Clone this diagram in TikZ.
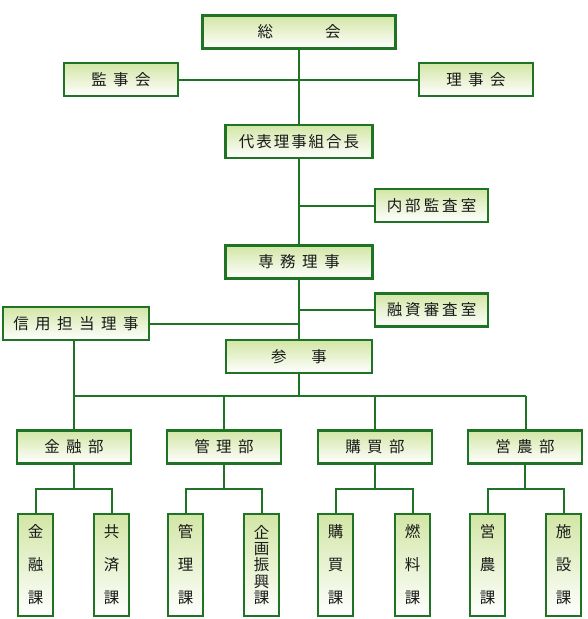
\documentclass[tikz,border=0pt]{standalone}
\usepackage{fontspec}
\setmainfont{Noto Sans CJK JP}
\usetikzlibrary{backgrounds}
\definecolor{bordergreen}{RGB}{30,115,36}
\definecolor{toplight}{RGB}{210,230,165}
\newcommand{\jg}[1]{\hspace{#1pt}}
\tikzset{
  box/.style={draw=bordergreen, line width=2.2pt, rectangle, inner sep=0pt,
    top color=toplight, bottom color=white,
    text=black!90, font=\fontsize{15.5}{18}\selectfont, anchor=center},
  hbox/.style={box, minimum height=33pt},
  vbox/.style={box, minimum width=35pt, minimum height=102pt, align=center},
  v3/.style={vbox, font=\fontsize{15.5}{33}\selectfont},
  v5/.style={vbox, font=\fontsize{15.5}{16.25}\selectfont},
  link/.style={draw=bordergreen, line width=2pt}
}
\begin{document}
\begin{tikzpicture}[x=1pt,y=-1pt]
\useasboundingbox (0,0) rectangle (587,619);
% boxes
\node[hbox, minimum width=193pt] (sokai) at (299,32) {総\jg{52}会};
\node[hbox, minimum width=114pt] (kanji) at (121,79.5) {監\jg{6.5}事\jg{6.5}会};
\node[hbox, minimum width=114pt] (riji) at (476,79.5) {理\jg{6.5}事\jg{6.5}会};
\node[hbox, minimum width=147pt] (daihyo) at (299,141.5) {代\jg{2}表\jg{2}理\jg{2}事\jg{2}組\jg{2}合\jg{2}長};
\node[hbox, minimum width=113pt] (naibu) at (431.5,205.5) {内\jg{3}部\jg{3}監\jg{3}査\jg{3}室};
\node[hbox, minimum width=147pt] (senmu) at (299,262) {専\jg{6.5}務\jg{6.5}理\jg{6.5}事};
\node[hbox, minimum width=113pt] (yushi) at (431.5,310) {融\jg{3}資\jg{3}審\jg{3}査\jg{3}室};
\node[hbox, minimum width=146pt] (shinyo) at (76,323.5) {信\jg{6.5}用\jg{6.5}担\jg{6.5}当\jg{6.5}理\jg{6.5}事};
\node[hbox, minimum width=146pt] (sanji) at (299,356.5) {参\jg{25}事};
\node[hbox, minimum width=114pt] (kinyubu) at (74,447) {金\jg{6.5}融\jg{6.5}部};
\node[hbox, minimum width=114pt] (kanribu) at (224,447) {管\jg{6.5}理\jg{6.5}部};
\node[hbox, minimum width=114pt] (kobaibu) at (375,447) {購\jg{6.5}買\jg{6.5}部};
\node[hbox, minimum width=114pt] (einobu) at (525,447) {営\jg{6.5}農\jg{6.5}部};
\node[v3] (kinyuka) at (35.5,565) {金\\融\\課};
\node[v3] (kyosaika) at (111.5,565) {共\\済\\課};
\node[v3] (kanrika) at (185.5,565) {管\\理\\課};
\node[v5] (kikakuka) at (261.5,565) {企\\画\\振\\興\\課};
\node[v3] (kobaika) at (335.5,565) {購\\買\\課};
\node[v3] (nenryoka) at (412.5,565) {燃\\料\\課};
\node[v3] (einoka) at (487.5,565) {営\\農\\課};
\node[v3] (shisetsuka) at (563.5,565) {施\\設\\課};
% connectors
\begin{scope}[on background layer]
\draw[link] (sokai.south) -- (daihyo.north);
\draw[link] (kanji.east) -- (riji.west);
\draw[link] (daihyo.south) -- (senmu.north);
\draw[link] (naibu.west) -- (naibu.west -| daihyo.south);
\draw[link] (senmu.south) -- (sanji.north);
\draw[link] (yushi.west) -- (yushi.west -| senmu.south);
\draw[link] (shinyo.east) -- (shinyo.east -| senmu.south);
\coordinate (busL) at (74,396);
\coordinate (busR) at (526,396);
\draw[link] (busL) -- (busR);
\draw[link] (sanji.south) -- (sanji.south |- busL);
\draw[link] (kinyubu.north |- shinyo.south) -- (kinyubu.north);
\draw[link] (kanribu.north |- busL) -- (kanribu.north);
\draw[link] (kobaibu.north |- busL) -- (kobaibu.north);
\draw[link] (busR) -- (busR |- einobu.north);
\foreach \d/\a/\b in {kinyubu/kinyuka/kyosaika, kanribu/kanrika/kikakuka, kobaibu/kobaika/nenryoka, einobu/einoka/shisetsuka}{
  \draw[link] (\d.south) -- (\d.south |- 0,489);
  \draw[link] (\a.north) -- (\a.north |- 0,489) -- (\b.north |- 0,489) -- (\b.north);
}
\end{scope}
\end{tikzpicture}
\end{document}
